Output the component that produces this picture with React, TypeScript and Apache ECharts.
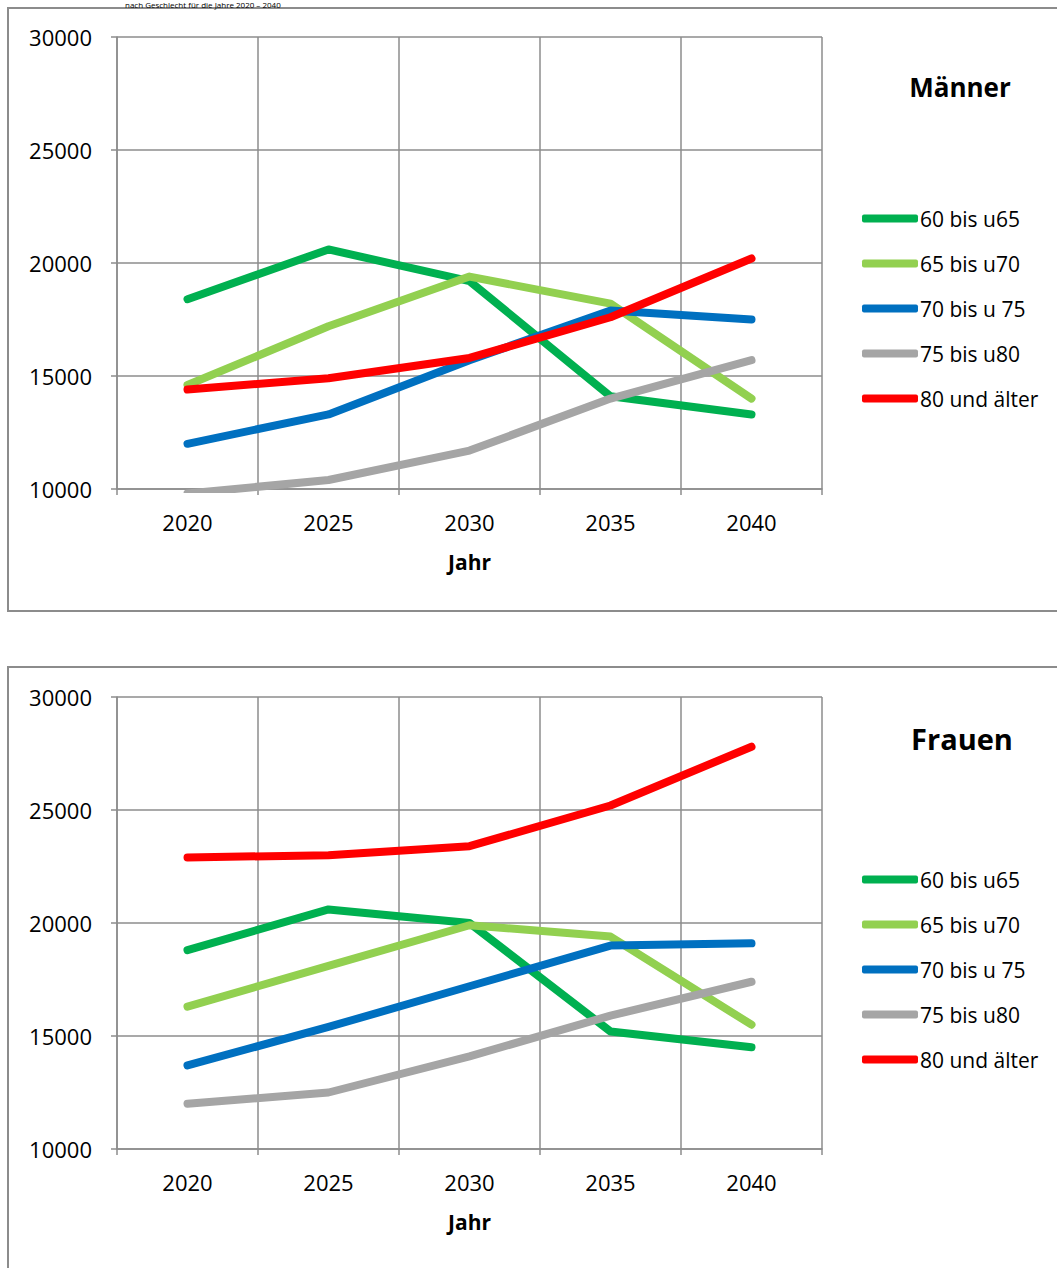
import React, { useEffect, useRef } from "react";
import * as echarts from "echarts";

const years = ["2020", "2025", "2030", "2035", "2040"];
const seriesNames = ["60 bis u65", "65 bis u70", "70 bis u 75", "75 bis u80", "80 und älter"];
const seriesColors = ["#00B050", "#92D050", "#0070C0", "#A5A5A5", "#FF0000"];

// Männer
const m60 = [18400, 20600, 19200, 14100, 13300];
const m65 = [14600, 17200, 19400, 18200, 14000];
const m70 = [12000, 13300, 15700, 17900, 17500];
const m75 = [9800, 10400, 11700, 14000, 15700];
const m80 = [14400, 14900, 15800, 17600, 20200];

// Frauen
const f60 = [18800, 20600, 20000, 15200, 14500];
const f65 = [16300, 18100, 19900, 19400, 15500];
const f70 = [13700, 15400, 17200, 19000, 19100];
const f75 = [12000, 12500, 14100, 15900, 17400];
const f80 = [22900, 23000, 23400, 25200, 27800];

const yTicks = { min: 10000, max: 30000, interval: 5000 };

const FONT = "'Open Sans', 'Noto Sans', sans-serif";
const GRID_COLOR = "#8c8c8c";

export default function App() {
  const ref = useRef<HTMLDivElement>(null);

  useEffect(() => {
    if (!ref.current) return;
    const chart = echarts.init(ref.current, undefined, { renderer: "svg" });

    const xAxisCfg = (gridIndex: number) => ({
      type: "category",
      gridIndex,
      data: years,
      boundaryGap: true,
      name: "Jahr",
      nameLocation: "middle",
      nameGap: 62,
      nameTextStyle: { fontFamily: FONT, fontSize: 21, fontWeight: "bold", color: "#000" },
      axisLine: { show: true, lineStyle: { color: GRID_COLOR, width: 1.5 } },
      axisTick: { show: true, alignWithLabel: false, length: 6, lineStyle: { color: GRID_COLOR, width: 1.5 } },
      axisLabel: { fontFamily: FONT, fontSize: 22, color: "#000", margin: 22 },
      splitLine: { show: true, lineStyle: { color: GRID_COLOR, width: 1.5 } },
    });

    const yAxisCfg = (gridIndex: number) => ({
      type: "value",
      gridIndex,
      min: yTicks.min,
      max: yTicks.max,
      interval: yTicks.interval,
      axisLine: { show: true, lineStyle: { color: GRID_COLOR, width: 1.5 } },
      axisTick: { show: true, length: 6, lineStyle: { color: GRID_COLOR, width: 1.5 } },
      axisLabel: {
        fontFamily: FONT,
        fontSize: 22,
        color: "#000",
        margin: 25,
        formatter: (v: number) => String(v),
      },
      splitLine: { show: true, lineStyle: { color: GRID_COLOR, width: 1.5 } },
    });

    const mkSeries = (data: number[][], idx: number) =>
      data.map((d, i) => ({
        name: seriesNames[i],
        type: "line",
        xAxisIndex: idx,
        yAxisIndex: idx,
        data: d,
        symbol: "none",
        clip: true,
        color: seriesColors[i],
        lineStyle: { width: 8, color: seriesColors[i], cap: "round", join: "round" },
      }));

    const legendCfg = (top: number) => ({
      orient: "vertical",
      left: 862,
      top,
      padding: 0,
      data: seriesNames,
      icon: "roundRect",
      itemWidth: 56,
      itemHeight: 8,
      itemGap: 24,
      selectedMode: false,
      textStyle: { fontFamily: FONT, fontSize: 21, lineHeight: 20, color: "#000", padding: [0, 0, 0, -3] },
    });

    chart.setOption({
      animation: false,
      backgroundColor: "#fff",
      grid: [
        { left: 117, top: 37, width: 705, height: 452 },
        { left: 117, top: 697, width: 705, height: 452 },
      ],
      xAxis: [xAxisCfg(0), xAxisCfg(1)],
      yAxis: [yAxisCfg(0), yAxisCfg(1)],
      legend: [legendCfg(208), legendCfg(869)],
      series: [
        ...mkSeries([m60, m65, m70, m75, m80], 0),
        ...mkSeries([f60, f65, f70, f75, f80], 1),
      ],
      graphic: [
        {
          type: "rect",
          silent: true,
          z: -1,
          shape: { x: 8, y: 8, width: 1060, height: 603 },
          style: { fill: "none", stroke: GRID_COLOR, lineWidth: 2 },
        },
        {
          type: "rect",
          silent: true,
          z: -1,
          shape: { x: 8, y: 667, width: 1060, height: 700 },
          style: { fill: "none", stroke: GRID_COLOR, lineWidth: 2 },
        },
        {
          type: "text",
          x: 125,
          y: 4,
          style: {
            text: "nach Geschlecht für die Jahre 2020 – 2040",
            fontFamily: FONT,
            fontSize: 8,
            fill: "#000",
            textAlign: "left",
            textVerticalAlign: "middle",
          },
        },
        {
          type: "text",
          x: 960,
          y: 87,
          style: {
            text: "Männer",
            fontFamily: FONT,
            fontSize: 26,
            fontWeight: "bold",
            fill: "#000",
            textAlign: "center",
            textVerticalAlign: "middle",
          },
        },
        {
          type: "text",
          x: 962,
          y: 738,
          style: {
            text: "Frauen",
            fontFamily: FONT,
            fontSize: 29,
            fontWeight: "bold",
            fill: "#000",
            textAlign: "center",
            textVerticalAlign: "middle",
          },
        },
      ],
    });

    return () => chart.dispose();
  }, []);

  return (
    <div
      ref={ref}
      style={{ position: "absolute", left: 0, top: 0, width: 1057, height: 1268, background: "#fff" }}
    />
  );
}
